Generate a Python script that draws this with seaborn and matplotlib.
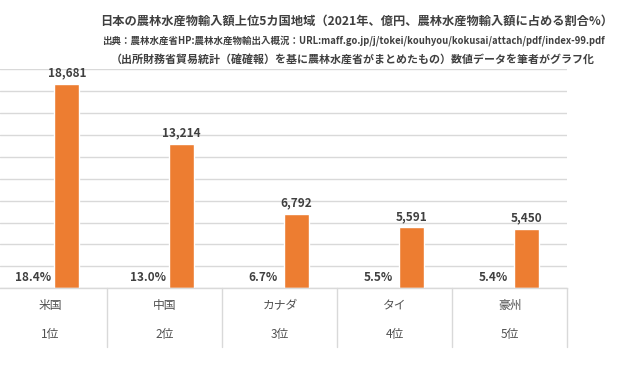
import matplotlib.pyplot as plt
import matplotlib.transforms as mtransforms
import pandas as pd
import seaborn as sns

# 日本の農林水産物輸入額 上位5カ国地域 (2021年)
countries = ["米国", "中国", "カナダ", "タイ", "豪州"]
ranks = ["1位", "2位", "3位", "4位", "5位"]
import_value = [18681, 13214, 6792, 5591, 5450]  # 億円
share_pct = [18.4, 13.0, 6.7, 5.5, 5.4]          # 輸入額に占める割合 %

title_lines = [
    "日本の農林水産物輸入額上位5カ国地域（2021年、億円、農林水産物輸入額に占める割合%）",
    "出典：農林水産省HP:農林水産物輸出入概況：URL:maff.go.jp/j/tokei/kouhyou/kokusai/attach/pdf/index-99.pdf",
    "（出所財務省貿易統計（確確報）を基に農林水産省がまとめたもの）数値データを筆者がグラフ化",
]

sns.set_theme(style="white")
plt.rcParams["font.family"] = ["Noto Sans CJK JP", "DejaVu Sans"]

df = pd.DataFrame({
    "country": countries * 2,
    "series": ["割合"] * len(countries) + ["輸入額"] * len(countries),
    "value": share_pct + import_value,
})

fig = plt.figure(figsize=(6.25, 3.82), dpi=100)
ax = fig.add_axes([0, 0.2453, 0.9077, 0.5733])

sns.barplot(data=df, x="country", y="value", hue="series", order=countries,
            hue_order=["割合", "輸入額"], palette=["#ED7D31", "#ED7D31"],
            width=0.583, gap=0.254, saturation=1, legend=False, ax=ax)

# percent series is only there for its labels
for bar in ax.containers[0]:
    bar.set_alpha(0)
ax.bar_label(ax.containers[0], labels=[f"{p:.1f}%" for p in share_pct],
             padding=3, fontsize=8.5, fontweight="bold", color="#404040")
ax.bar_label(ax.containers[1], labels=[f"{v:,}" for v in import_value],
             padding=3, fontsize=8.5, fontweight="bold", color="#404040")

ax.set_xlim(-0.435, 4.5)
ax.set_ylim(0, 20000)
ax.set_yticks(range(0, 20001, 2000))
ax.set_yticklabels([])
ax.set_xticks([])
ax.set_xlabel("")
ax.set_ylabel("")
ax.tick_params(length=0)
ax.yaxis.grid(True, color="#D9D9D9", linewidth=1)
ax.set_axisbelow(True)
for side in ["top", "left", "right"]:
    ax.spines[side].set_visible(False)
ax.spines["bottom"].set_color("#D9D9D9")
ax.spines["bottom"].set_linewidth(1)

# category labels and separators below the axis
trans = mtransforms.blended_transform_factory(ax.transData, ax.transAxes)
for i, (name, rank) in enumerate(zip(countries, ranks)):
    ax.text(i, -0.0795, name, transform=trans, ha="center", va="center",
            fontsize=8.5, color="#505050")
    ax.text(i, -0.210, rank, transform=trans, ha="center", va="center",
            fontsize=8.5, color="#505050")
for i in range(len(countries)):
    ax.plot([i + 0.5, i + 0.5], [0, -0.2667], transform=trans, clip_on=False,
            color="#D9D9D9", linewidth=1)

fig.text(0.57, 1 - 21 / 382, title_lines[0], ha="center", va="center",
         fontsize=8.8, fontweight="bold", color="#404040")
fig.text(0.565, 1 - 41 / 382, title_lines[1], ha="center", va="center",
         fontsize=6.8, fontweight="bold", color="#404040")
fig.text(0.565, 1 - 59 / 382, title_lines[2], ha="center", va="center",
         fontsize=7.9, fontweight="bold", color="#404040")

plt.savefig("out.png", dpi=100)
